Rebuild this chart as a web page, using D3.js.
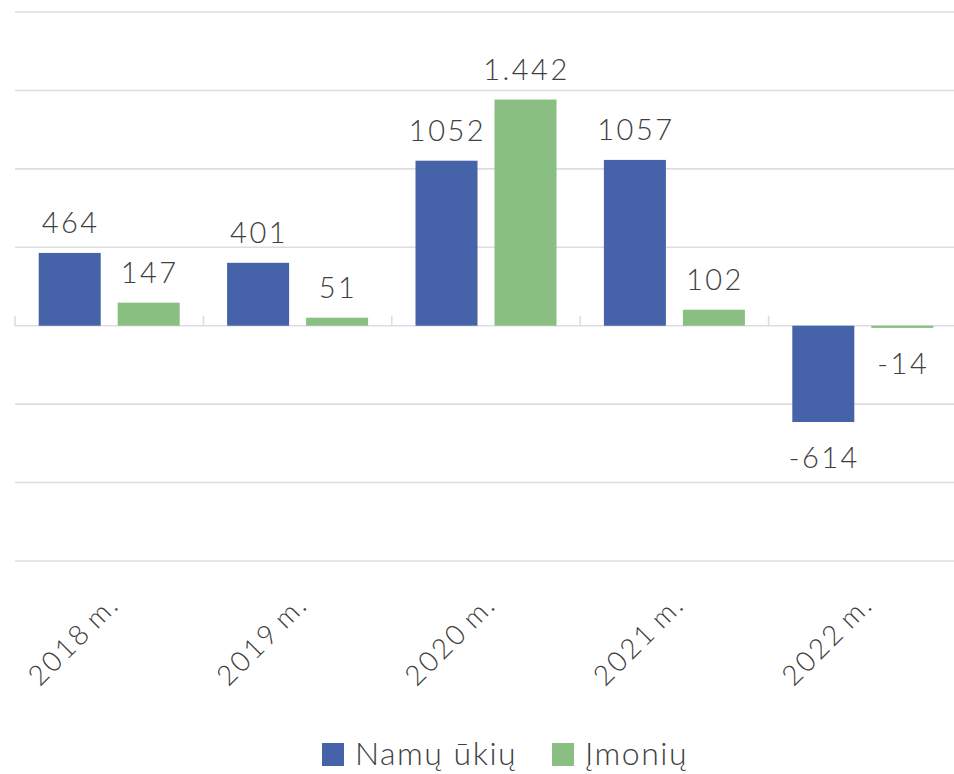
<!DOCTYPE html>
<html><head><meta charset="utf-8">
<script src="https://cdn.jsdelivr.net/npm/d3@7"></script>
<style>
body{margin:0;background:#fff;}
text{font-family:Lato,"Open Sans",sans-serif;font-weight:300;fill:#404040;}
</style></head>
<body><svg id="c" width="954" height="774"></svg>
<script>
const categories = ["2018 m.","2019 m.","2020 m.","2021 m.","2022 m."];
const seriesNames = ["Namų ūkių","Įmonių"];
const namuUkiu = [464, 401, 1052, 1057, -614];
const imoniu = [147, 51, 1442, 102, -14];
const namuLabels = ["464","401","1052","1057","-614"];
const imoniuLabels = ["147","51","1.442","102","-14"];
const yTicks = [-1500,-1000,-500,0,500,1000,1500,2000];
const colors = ["#4662A9","#89C081"];

const svg = d3.select("#c");
const x0 = d3.scaleBand().domain(categories).range([15, 957]).paddingInner(0).paddingOuter(0);
const x1 = d3.scaleBand().domain(seriesNames).range([0, x0.bandwidth()]).paddingInner(0.215).paddingOuter(0.3);
const y = d3.scaleLinear().domain([-1500, 2000]).range([561, 12]);

// gridlines
svg.append("g").selectAll("line").data(yTicks).join("line")
  .attr("x1", 15).attr("x2", 957)
  .attr("y1", d => y(d)).attr("y2", d => y(d))
  .attr("stroke", "#dcdce6").attr("stroke-width", 1.6);

// category boundary ticks
svg.append("g").selectAll("line").data(categories.concat(["end"])).join("line")
  .attr("x1", (d,i) => 15 + i*x0.step()).attr("x2", (d,i) => 15 + i*x0.step())
  .attr("y1", y(0) - 10).attr("y2", y(0))
  .attr("stroke", "#dcdce6").attr("stroke-width", 1.6);

const data = categories.map((c,i) => ({c, vals:[
  {s: seriesNames[0], v: namuUkiu[i], l: namuLabels[i], col: colors[0]},
  {s: seriesNames[1], v: imoniu[i], l: imoniuLabels[i], col: colors[1]}
]}));

const g = svg.append("g").selectAll("g").data(data).join("g")
  .attr("transform", d => `translate(${x0(d.c)},0)`);

g.selectAll("rect").data(d => d.vals).join("rect")
  .attr("x", d => x1(d.s)).attr("width", x1.bandwidth())
  .attr("y", d => y(Math.max(0, d.v)))
  .attr("height", d => Math.abs(y(d.v) - y(0)))
  .attr("fill", d => d.col);

g.selectAll("text").data(d => d.vals).join("text")
  .attr("x", d => x1(d.s) + x1.bandwidth()/2 + 1)
  .attr("y", d => d.v >= 0 ? y(d.v) - 20 : y(d.v) + 46)
  .attr("text-anchor", "middle")
  .style("font-size", "29px")
  .style("letter-spacing", "2.5px")
  .text(d => d.l);

// x axis labels
svg.append("g").selectAll("text").data(categories).join("text")
  .attr("transform", d => `translate(${x0(d) + x0.bandwidth()/2 + 12},606) rotate(-45)`)
  .attr("text-anchor", "end")
  .style("font-size", "28px")
  .style("letter-spacing", "2.5px")
  .style("word-spacing", "-4px")
  .text(d => d);

// legend
const legend = [{n: seriesNames[0], c: colors[0], x: 322}, {n: seriesNames[1], c: colors[1], x: 552}];
const lg = svg.append("g").selectAll("g").data(legend).join("g")
  .attr("transform", d => `translate(${d.x},743)`);
lg.append("rect").attr("width", 22).attr("height", 23).attr("fill", d => d.c);
lg.append("text").attr("x", 33).attr("y", 22).style("font-size", "32px").style("letter-spacing", "1.5px").text(d => d.n);
</script></body></html>
